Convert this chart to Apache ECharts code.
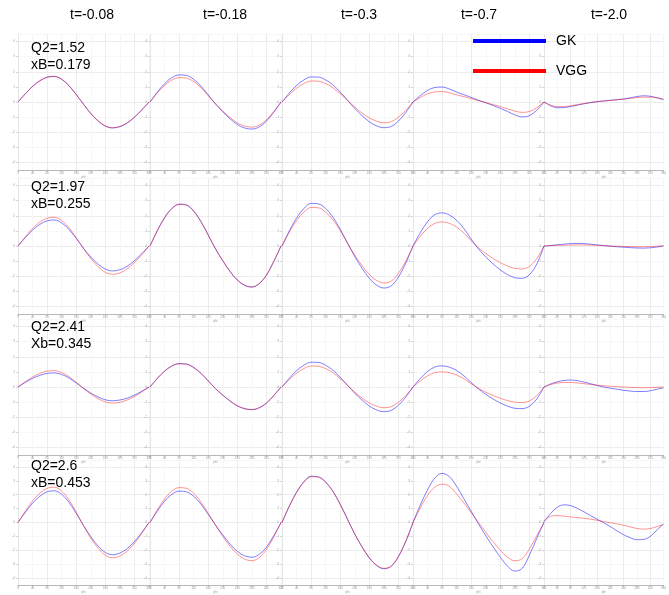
<!DOCTYPE html>
<html>
<head>
<meta charset="utf-8">
<script src="https://cdn.jsdelivr.net/npm/echarts@6/dist/echarts.min.js"></script>
<style>
html,body{margin:0;padding:0;background:#fff;}
#chart{width:669px;height:595px;}
</style>
</head>
<body>
<div id="chart"></div>
<script>
// phi sample points (deg) shared by every panel
var phi = [0, 20, 40, 60, 80, 100, 120, 140, 160, 180, 200, 220, 240, 260, 280, 300, 320, 340, 360];
var tLabels = ['t=-0.08', 't=-0.18', 't=-0.3', 't=-0.7', 't=-2.0'];
var q2Labels = ['Q2=1.52', 'Q2=1.97', 'Q2=2.41', 'Q2=2.6'];
var xbLabels = ['xB=0.179', 'xB=0.255', 'Xb=0.345', 'xB=0.453'];

// one list per t column
var gkRow1 = [
  [0, 0.54, 1.04, 1.41, 1.65, 1.7, 1.51, 1.09, 0.49, -0.15, -0.76, -1.26, -1.6, -1.72, -1.63, -1.39, -1.01, -0.53, 0],
  [0, 0.65, 1.21, 1.61, 1.79, 1.76, 1.5, 1.05, 0.47, -0.13, -0.64, -1.11, -1.49, -1.72, -1.79, -1.65, -1.27, -0.68, 0],
  [0, 0.59, 1.09, 1.46, 1.66, 1.65, 1.46, 1.13, 0.66, 0.12, -0.43, -0.9, -1.31, -1.58, -1.7, -1.62, -1.26, -0.7, 0],
  [0, 0.42, 0.77, 0.96, 0.99, 0.86, 0.66, 0.48, 0.3, 0.12, -0.05, -0.23, -0.42, -0.63, -0.85, -0.99, -0.9, -0.55, 0],
  [0, -0.25, -0.38, -0.37, -0.3, -0.21, -0.12, -0.04, 0.02, 0.07, 0.11, 0.15, 0.2, 0.28, 0.36, 0.41, 0.38, 0.28, 0.15]
];
var vggRow1 = [
  [0, 0.54, 1.02, 1.39, 1.63, 1.68, 1.5, 1.08, 0.49, -0.15, -0.75, -1.24, -1.58, -1.7, -1.62, -1.38, -1.0, -0.53, 0],
  [0, 0.59, 1.09, 1.45, 1.61, 1.58, 1.35, 0.95, 0.42, -0.12, -0.6, -1.03, -1.38, -1.59, -1.66, -1.53, -1.18, -0.63, 0],
  [0, 0.49, 0.91, 1.22, 1.39, 1.37, 1.22, 0.94, 0.55, 0.1, -0.34, -0.73, -1.05, -1.27, -1.37, -1.3, -1.01, -0.56, 0],
  [0, 0.3, 0.54, 0.67, 0.69, 0.61, 0.48, 0.35, 0.22, 0.09, -0.04, -0.17, -0.3, -0.45, -0.6, -0.69, -0.63, -0.38, 0],
  [0, -0.2, -0.3, -0.3, -0.25, -0.17, -0.1, -0.03, 0.02, 0.07, 0.11, 0.15, 0.19, 0.24, 0.29, 0.32, 0.32, 0.28, 0.2]
];
var gkRow2 = [
  [0, 0.55, 1.05, 1.43, 1.67, 1.72, 1.53, 1.1, 0.5, -0.15, -0.73, -1.2, -1.53, -1.65, -1.57, -1.34, -0.97, -0.51, 0],
  [0, 1.01, 1.88, 2.49, 2.77, 2.72, 2.32, 1.62, 0.73, -0.19, -0.98, -1.69, -2.26, -2.61, -2.72, -2.5, -1.93, -1.03, 0],
  [0, 1.0, 1.85, 2.48, 2.82, 2.79, 2.48, 1.91, 1.11, 0.2, -0.7, -1.47, -2.14, -2.59, -2.78, -2.64, -2.06, -1.14, 0],
  [0, 0.88, 1.61, 2.07, 2.19, 2.05, 1.7, 1.15, 0.45, -0.2, -0.72, -1.18, -1.58, -1.9, -2.1, -2.14, -1.9, -1.2, 0],
  [0, 0.03, 0.08, 0.12, 0.16, 0.17, 0.16, 0.12, 0.07, 0.03, -0.01, -0.05, -0.08, -0.11, -0.13, -0.14, -0.12, -0.07, 0]
];
var vggRow2 = [
  [0, 0.61, 1.16, 1.58, 1.84, 1.9, 1.69, 1.22, 0.55, -0.17, -0.82, -1.37, -1.74, -1.87, -1.78, -1.51, -1.1, -0.58, 0],
  [0, 1.0, 1.86, 2.47, 2.75, 2.7, 2.3, 1.6, 0.72, -0.19, -0.97, -1.68, -2.24, -2.59, -2.7, -2.48, -1.92, -1.02, 0],
  [0, 0.9, 1.68, 2.24, 2.55, 2.53, 2.24, 1.73, 1.01, 0.18, -0.61, -1.3, -1.89, -2.28, -2.45, -2.33, -1.81, -1.0, 0],
  [0, 0.64, 1.17, 1.5, 1.59, 1.5, 1.25, 0.85, 0.35, -0.12, -0.5, -0.83, -1.1, -1.33, -1.48, -1.52, -1.35, -0.85, 0],
  [0, 0.02, 0.04, 0.05, 0.06, 0.07, 0.07, 0.06, 0.04, 0.02, 0, -0.02, -0.03, -0.04, -0.05, -0.05, -0.04, -0.01, 0.02]
];
var gkRow3 = [
  [0, 0.3, 0.57, 0.77, 0.9, 0.93, 0.83, 0.6, 0.27, -0.08, -0.4, -0.66, -0.85, -0.91, -0.86, -0.74, -0.54, -0.28, 0],
  [0, 0.57, 1.05, 1.4, 1.55, 1.52, 1.3, 0.91, 0.41, -0.11, -0.54, -0.93, -1.25, -1.44, -1.5, -1.38, -1.07, -0.57, 0],
  [0, 0.58, 1.08, 1.44, 1.64, 1.63, 1.44, 1.11, 0.65, 0.12, -0.41, -0.86, -1.26, -1.52, -1.63, -1.55, -1.21, -0.67, 0],
  [0, 0.56, 1.03, 1.32, 1.4, 1.31, 1.09, 0.74, 0.29, -0.13, -0.48, -0.79, -1.06, -1.27, -1.41, -1.43, -1.27, -0.8, 0],
  [0, 0.2, 0.34, 0.43, 0.46, 0.42, 0.33, 0.22, 0.1, 0, -0.08, -0.15, -0.22, -0.27, -0.3, -0.3, -0.25, -0.15, -0.05]
];
var vggRow3 = [
  [0, 0.35, 0.66, 0.9, 1.05, 1.08, 0.96, 0.69, 0.31, -0.1, -0.47, -0.77, -0.99, -1.06, -1.01, -0.86, -0.63, -0.33, 0],
  [0, 0.56, 1.04, 1.38, 1.53, 1.5, 1.28, 0.9, 0.4, -0.11, -0.53, -0.92, -1.24, -1.43, -1.49, -1.37, -1.06, -0.57, 0],
  [0, 0.49, 0.91, 1.22, 1.39, 1.37, 1.22, 0.94, 0.55, 0.1, -0.34, -0.73, -1.05, -1.27, -1.37, -1.3, -1.01, -0.56, 0],
  [0, 0.4, 0.74, 0.95, 1.0, 0.95, 0.79, 0.54, 0.22, -0.08, -0.34, -0.56, -0.75, -0.9, -1.0, -1.03, -0.92, -0.58, 0],
  [0, 0.16, 0.26, 0.3, 0.3, 0.27, 0.22, 0.17, 0.12, 0.08, 0.05, 0.02, 0, -0.02, -0.04, -0.05, -0.04, -0.02, 0]
];
var gkRow4 = [
  [0, 0.73, 1.39, 1.89, 2.21, 2.28, 2.03, 1.46, 0.66, -0.21, -1.02, -1.69, -2.16, -2.32, -2.2, -1.88, -1.37, -0.72, 0],
  [0, 0.82, 1.53, 2.03, 2.26, 2.21, 1.89, 1.32, 0.59, -0.18, -0.9, -1.55, -2.08, -2.4, -2.5, -2.3, -1.78, -0.95, 0],
  [0, 1.18, 2.18, 2.92, 3.33, 3.29, 2.92, 2.25, 1.31, 0.24, -0.83, -1.76, -2.56, -3.1, -3.33, -3.16, -2.46, -1.37, 0],
  [0, 1.25, 2.35, 3.2, 3.54, 3.3, 2.6, 1.7, 0.8, -0.1, -0.95, -1.75, -2.5, -3.15, -3.5, -3.3, -2.35, -1.15, 0],
  [0.07, 0.65, 1.1, 1.27, 1.22, 1.02, 0.77, 0.5, 0.24, -0.02, -0.3, -0.6, -0.88, -1.1, -1.24, -1.22, -1.0, -0.55, -0.1]
];
var vggRow4 = [
  [0, 0.81, 1.55, 2.11, 2.46, 2.54, 2.26, 1.63, 0.74, -0.23, -1.12, -1.85, -2.36, -2.54, -2.41, -2.06, -1.5, -0.79, 0],
  [0, 0.91, 1.7, 2.26, 2.51, 2.46, 2.11, 1.47, 0.66, -0.19, -0.99, -1.71, -2.28, -2.64, -2.75, -2.53, -1.95, -1.05, 0],
  [0, 1.17, 2.16, 2.9, 3.3, 3.26, 2.9, 2.23, 1.3, 0.23, -0.83, -1.75, -2.54, -3.07, -3.3, -3.14, -2.44, -1.35, 0],
  [0, 1.05, 1.95, 2.55, 2.76, 2.6, 2.05, 1.4, 0.7, 0, -0.7, -1.38, -2.0, -2.5, -2.76, -2.6, -1.9, -0.95, 0],
  [0.07, 0.45, 0.5, 0.46, 0.4, 0.35, 0.3, 0.24, 0.16, 0.07, -0.02, -0.1, -0.2, -0.32, -0.43, -0.48, -0.43, -0.3, -0.15]
];

var gkRows = [gkRow1, gkRow2, gkRow3, gkRow4];
var vggRows = [vggRow1, vggRow2, vggRow3, vggRow4];

var colLeft = [18, 150, 282, 413, 544];
var rowTop = [34, 178, 319, 460];
var panelW = 131, panelH = 136;
var font = 'Liberation Sans, Arial, sans-serif';

var myChart = echarts.init(document.getElementById('chart'));

function pairs(vals) {
  var out = [];
  for (var i = 0; i < phi.length; i++) out.push([phi[i], vals[i]]);
  return out;
}

var grids = [], xAxes = [], yAxes = [], series = [], graphics = [];
for (var r = 0; r < 4; r++) {
  for (var c = 0; c < 5; c++) {
    var k = r * 5 + c;
    grids.push({left: colLeft[c], top: rowTop[r], width: panelW, height: panelH, containLabel: false});
    xAxes.push({
      gridIndex: k, type: 'value', min: 0, max: 360, interval: 40,
      name: 'phi', nameLocation: 'middle', nameGap: 6,
      nameTextStyle: {fontSize: 3, color: '#999'},
      axisLine: {show: true, onZero: false, lineStyle: {color: '#b8b8b8', width: 1}},
      axisTick: {show: true, length: 2, lineStyle: {color: '#b8b8b8'}},
      axisLabel: {fontSize: 3, color: '#999', margin: 2},
      splitLine: {show: true, lineStyle: {color: ['#ececec', '#f7f7f7'], width: 1}}
    });
    yAxes.push({
      gridIndex: k, type: 'value', min: -4.5, max: 4.5, splitNumber: 9,
      axisLine: {show: true, onZero: false, lineStyle: {color: '#e6e6e6'}},
      axisTick: {show: true, length: 2, lineStyle: {color: '#d4d4d4'}},
      axisLabel: {fontSize: 3, color: '#999', margin: 3, showMinLabel: false, showMaxLabel: false},
      splitLine: {show: true, lineStyle: {color: ['#f7f7f7', '#ececec'], width: 1}}
    });
    series.push({
      name: 'GK', type: 'line', xAxisIndex: k, yAxisIndex: k,
      data: pairs(gkRows[r][c]), smooth: 0.35, showSymbol: false, silent: true,
      itemStyle: {color: '#0000ff'},
      lineStyle: {color: 'rgba(0,0,255,0.5)', width: 1}
    });
    series.push({
      name: 'VGG', type: 'line', xAxisIndex: k, yAxisIndex: k,
      data: pairs(vggRows[r][c]), smooth: 0.35, showSymbol: false, silent: true,
      itemStyle: {color: '#ff0000'},
      lineStyle: {color: 'rgba(255,0,0,0.42)', width: 1}
    });
  }
}

// column titles
var tCenter = [92, 225, 359, 479, 609];
for (var i = 0; i < tLabels.length; i++) {
  graphics.push({type: 'text', x: tCenter[i], y: 15, z: 100, silent: true,
    style: {text: tLabels[i], font: '14px ' + font, fill: '#000', align: 'center', verticalAlign: 'middle'}});
}
// kinematics labels
var labelTop = [40, 179, 319, 458];
for (var j = 0; j < q2Labels.length; j++) {
  graphics.push({type: 'text', x: 31, y: labelTop[j], z: 100, silent: true,
    style: {text: q2Labels[j] + '\n' + xbLabels[j], font: '14px ' + font, fill: '#000', lineHeight: 17, verticalAlign: 'top'}});
}

var option = {
  backgroundColor: '#fff',
  animation: false,
  legend: {
    orient: 'vertical', left: 473, top: 34, padding: 0, z: 100,
    itemWidth: 73, itemHeight: 4, itemGap: 16, icon: 'rect',
    textStyle: {fontSize: 14, color: '#000', fontFamily: font, padding: [0, 0, 0, 5]},
    data: [
      {name: 'GK', itemStyle: {color: '#0000ff'}},
      {name: 'VGG', itemStyle: {color: '#ff0000'}}
    ]
  },
  grid: grids,
  xAxis: xAxes,
  yAxis: yAxes,
  series: series,
  graphic: graphics
};
myChart.setOption(option);
</script>
</body>
</html>
